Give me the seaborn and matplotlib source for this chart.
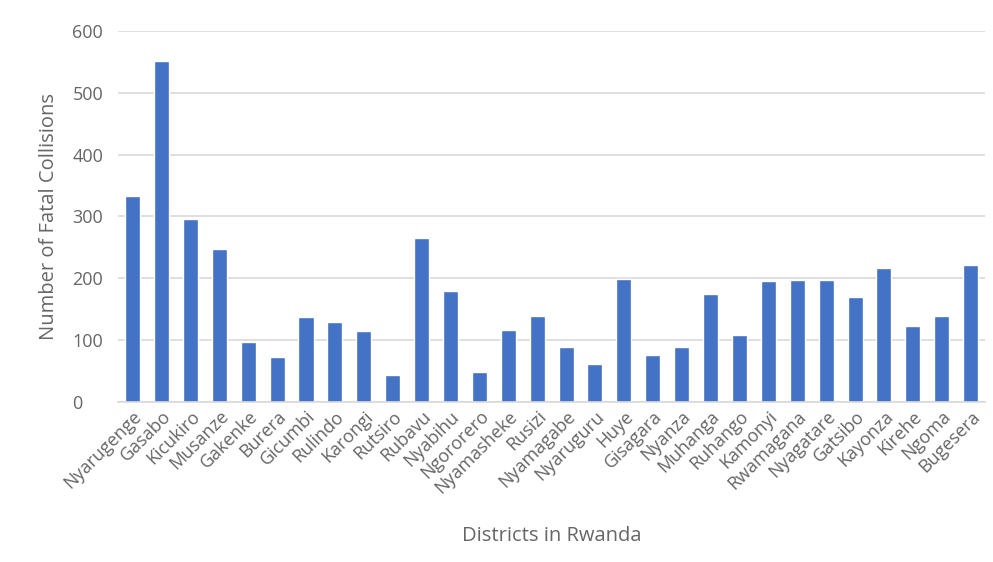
import matplotlib
matplotlib.use("Agg")
import matplotlib.pyplot as plt
import seaborn as sns
import pandas as pd

districts = [
    "Nyarugenge", "Gasabo", "Kicukiro", "Musanze", "Gakenke", "Burera",
    "Gicumbi", "Rulindo", "Karongi", "Rutsiro", "Rubavu", "Nyabihu",
    "Ngororero", "Nyamasheke", "Rusizi", "Nyamagabe", "Nyaruguru", "Huye",
    "Gisagara", "Nyanza", "Muhanga", "Ruhango", "Kamonyi", "Rwamagana",
    "Nyagatare", "Gatsibo", "Kayonza", "Kirehe", "Ngoma", "Bugesera",
]
fatal_collisions = [
    333, 551, 296, 248, 97, 73,
    138, 129, 114, 43, 265, 180,
    49, 117, 139, 88, 62, 198,
    76, 88, 174, 108, 196, 197,
    197, 170, 217, 122, 139, 221,
]
y_ticks = [0, 100, 200, 300, 400, 500, 600]

sns.set_theme(style="white")
plt.rcParams['font.family'] = ['Open Sans', 'DejaVu Sans']

df = pd.DataFrame({"district": districts, "count": fatal_collisions})

fig = plt.figure(figsize=(9.93, 5.62), dpi=100)
ax = fig.add_axes([0.119, 0.285, 0.873, 0.66])

sns.barplot(data=df, x="district", y="count", color="#4472C4",
            saturation=1, width=0.52, ax=ax)

ax.set_ylim(0, 600)
ax.set_yticks(y_ticks)
ax.yaxis.grid(True, color="#D9D9D9", linewidth=1.2)
ax.set_axisbelow(True)
for side in ["top", "right", "left"]:
    ax.spines[side].set_visible(False)
ax.spines["bottom"].set_color("#D9D9D9")
ax.spines["bottom"].set_linewidth(1.2)
ax.tick_params(axis="both", length=0, colors="#666666", labelsize=13)
ax.tick_params(axis="y", pad=33)
ax.tick_params(axis="x", pad=4)
plt.setp(ax.get_yticklabels(), ha="left")
plt.setp(ax.get_xticklabels(), rotation=45, ha="right", rotation_mode="anchor")

ax.set_xlabel("Districts in Rwanda", fontsize=14.5, color="#666666")
ax.set_ylabel("Number of Fatal Collisions", fontsize=14.5, color="#666666")
ax.xaxis.set_label_coords(0.5, -0.335)
ax.yaxis.set_label_coords(-0.068, 0.5)

fig.savefig("out.png", dpi=100, facecolor="white")
